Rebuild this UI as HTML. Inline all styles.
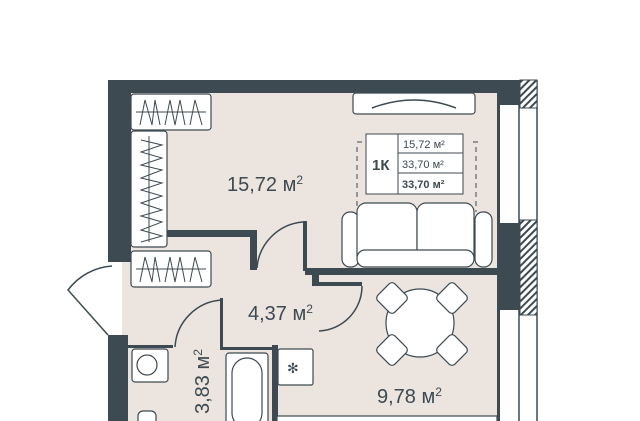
<!DOCTYPE html>
<html><head><meta charset="utf-8"><style>
html,body{margin:0;padding:0;background:#fff;width:640px;height:421px;overflow:hidden}
svg{display:block}
text{font-family:"Liberation Sans",sans-serif;fill:#3d4a52}
</style></head><body>
<svg width="640" height="421" viewBox="0 0 640 421">
<defs>
<pattern id="h" width="5" height="5" patternUnits="userSpaceOnUse" patternTransform="rotate(45)">
<rect width="5" height="5" fill="#fff"/><rect width="2" height="5" fill="#3d4a52"/>
</pattern>
</defs>
<rect x="122" y="92" width="377" height="329" fill="#ebe4df"/>
<g fill="#3d4a52">
<rect x="108" y="80" width="412" height="13"/>
<rect x="108" y="80" width="23" height="182"/>
<rect x="108" y="335" width="20" height="86"/>
<rect x="497" y="93" width="3" height="328"/>
<rect x="497" y="223" width="23" height="87"/>
<rect x="497" y="80" width="23" height="25"/>
<rect x="167" y="230" width="90" height="7"/>
<rect x="250" y="230" width="7" height="40"/>
<rect x="303" y="221" width="4" height="50"/>
<rect x="305" y="268" width="195" height="7"/>
<rect x="312" y="268" width="7" height="18"/>
<rect x="312" y="282" width="50" height="4"/>
<rect x="220" y="298" width="3" height="52"/>
<rect x="220" y="347" width="52" height="3"/>
<rect x="272" y="345" width="6" height="76"/>
<rect x="128" y="345" width="45" height="3"/>
</g>
<rect x="500" y="105" width="37" height="118" fill="#fff"/>
<rect x="500" y="310" width="37" height="111" fill="#fff"/>
<line x1="519" y1="105" x2="519" y2="421" stroke="#3d4a52" stroke-width="1.5"/>
<line x1="537" y1="80" x2="537" y2="421" stroke="#3d4a52" stroke-width="1.5"/>
<rect x="520" y="80" width="17" height="28" fill="url(#h)" stroke="#3d4a52"/>
<rect x="520" y="220" width="17" height="95" fill="url(#h)" stroke="#3d4a52"/>
<g fill="#fff" stroke="#3d4a52" stroke-width="1.2">
<rect x="131" y="94" width="80" height="36" rx="3"/>
<rect x="131" y="131" width="36" height="116" rx="3"/>
<rect x="131" y="251" width="80" height="36" rx="3"/>
<rect x="353" y="93" width="122" height="21" rx="3"/>
<rect x="342" y="212" width="17" height="55" rx="8"/>
<rect x="475" y="212" width="17" height="55" rx="8"/>
<rect x="357" y="203" width="60" height="62" rx="9"/>
<rect x="417" y="203" width="57" height="62" rx="9"/>
<rect x="357" y="250" width="117" height="17" rx="8"/>
<circle cx="420" cy="323" r="34"/>
<g transform="rotate(-45 392 298)"><rect x="380" y="286" width="24" height="24" rx="4"/></g>
<g transform="rotate(45 452 298)"><rect x="440" y="286" width="24" height="24" rx="4"/></g>
<g transform="rotate(45 392 350)"><rect x="380" y="338" width="24" height="24" rx="4"/></g>
<g transform="rotate(-45 452 350)"><rect x="440" y="338" width="24" height="24" rx="4"/></g>
<rect x="132" y="349" width="36" height="33" rx="3"/>
<circle cx="147" cy="365" r="10"/>
<rect x="226" y="353" width="42" height="72" rx="3"/>
<rect x="232" y="358" width="30" height="70" rx="15"/>
<rect x="278" y="349" width="35" height="36" rx="2"/>
<rect x="277" y="416" width="220" height="10"/>
<rect x="138" y="411" width="18" height="14" rx="5"/>
</g>
<g fill="none" stroke="#3d4a52" stroke-width="1.5">
<path d="M257 268 A50 50 0 0 1 303 222"/>
<path d="M362 286 A45 45 0 0 1 319 331"/>
<path d="M222 300 A50 50 0 0 0 175 347"/>
<path d="M372 108 Q414 92 456 108"/>
</g>
<path d="M108 335 L68 290 A60 60 0 0 1 112 266 L112 335 Z" fill="#fff" stroke="none"/>
<path d="M108 335 L68 290 A60 60 0 0 1 112 266" fill="none" stroke="#3d4a52" stroke-width="1.5"/>
<g stroke="#3d4a52" stroke-width="1" fill="none">
<path d="M136 112 L206 112 M140 125 L145 100 L152 125 L155 100 L160 125 M165 125 L170 100 L175 125 L180 100 L185 125 M190 125 L195 100 L202 125"/>
<path d="M136 269 L206 269 M140 282 L145 257 L152 282 L155 257 L160 282 M165 282 L170 257 L175 282 L180 257 L185 282 M190 282 L195 257 L202 282"/>
<path d="M149 136 L149 242 M141 140 L162 145 L141 152 L162 158 L141 165 L162 170 L141 178 L162 183 L141 190 L162 196 L141 203 L162 210 L141 216 L162 222 L141 230 L162 236 L141 242"/>
</g>
<g stroke="#3d4a52" fill="none" stroke-width="1" stroke-dasharray="5 4">
<path d="M357 147 V210 M357 142 H362 M473 142 H478 M476 147 V212"/>
</g>
<rect x="366" y="134" width="97" height="60" fill="#fff" stroke="#3d4a52" stroke-width="1"/>
<line x1="398" y1="134" x2="398" y2="194" stroke="#3d4a52"/>
<line x1="398" y1="153" x2="463" y2="153" stroke="#3d4a52"/>
<line x1="398" y1="173" x2="463" y2="173" stroke="#3d4a52"/>
<text x="372" y="170" font-size="15" font-weight="bold">1К</text>
<text x="403" y="148" font-size="11">15,72 м²</text>
<text x="402" y="168" font-size="11">33,70 м²</text>
<text x="402" y="188" font-size="11" font-weight="bold">33,70 м²</text>
<text x="227" y="191" font-size="20">15,72 м<tspan font-size="12" dy="-7">2</tspan></text>
<text x="248" y="320" font-size="20">4,37 м<tspan font-size="12" dy="-7">2</tspan></text>
<text x="377" y="403" font-size="20">9,78 м<tspan font-size="12" dy="-7">2</tspan></text>
<text transform="translate(209 414) rotate(-90)" font-size="20">3,83 м<tspan font-size="12" dy="-7">2</tspan></text>
<text x="287" y="373" font-size="14">✻</text>
</svg>
</body></html>
